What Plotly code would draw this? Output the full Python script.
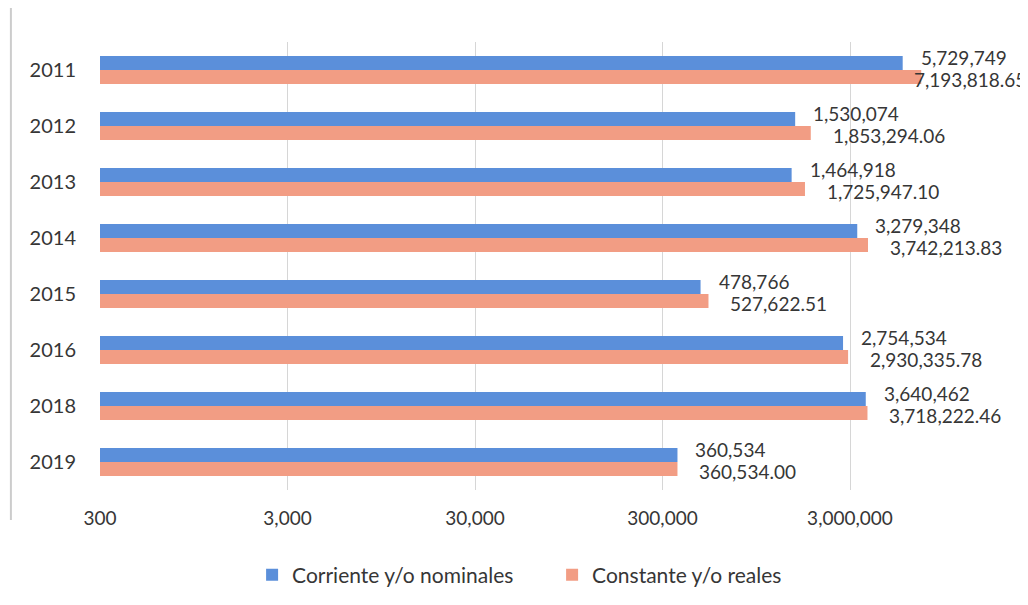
import plotly.graph_objects as go
import math

years = ["2011", "2012", "2013", "2014", "2015", "2016", "2018", "2019"]
corriente = [5729749, 1530074, 1464918, 3279348, 478766, 2754534, 3640462, 360534]
constante = [7193818.65, 1853294.06, 1725947.10, 3742213.83, 527622.51, 2930335.78, 3718222.46, 360534.00]
corriente_lbl = ["5,729,749", "1,530,074", "1,464,918", "3,279,348", "478,766", "2,754,534", "3,640,462", "360,534"]
constante_lbl = ["7,193,818.65", "1,853,294.06", "1,725,947.10", "3,742,213.83", "527,622.51", "2,930,335.78", "3,718,222.46", "360,534.00"]
tick_vals = [300, 3000, 30000, 300000, 3000000]
tick_text = ["300", "3,000", "30,000", "300,000", "3,000,000"]

BLUE = "#5b8fda"
ORANGE = "#f29d84"
TXT = "#363636"
FONT = "Lato, Open Sans, sans-serif"
LBL_SIZE = 19

fig = go.Figure()
fig.add_trace(go.Bar(
    y=years, x=corriente, orientation="h", name="Corriente y/o nominales",
    marker=dict(color=BLUE, line=dict(width=0)),
))
fig.add_trace(go.Bar(
    y=years, x=constante, orientation="h", name="Constante y/o reales",
    marker=dict(color=ORANGE, line=dict(width=0)),
))

x_max_fit = 5e6  # labels beyond this value are pulled left to stay on the page
annotations = []
for i, (v, lbl) in enumerate(zip(corriente, corriente_lbl)):
    annotations.append(dict(x=math.log10(v), y=i, xref="x", yref="y", text=lbl,
                            showarrow=False, xanchor="left", yanchor="middle",
                            xshift=16, yshift=13, font=dict(size=LBL_SIZE, color=TXT, family=FONT)))
for i, (v, lbl) in enumerate(zip(constante, constante_lbl)):
    annotations.append(dict(x=math.log10(v), y=i, xref="x", yref="y", text=lbl,
                            showarrow=False, xanchor="left", yanchor="middle",
                            xshift=20 if v < x_max_fit else -9, yshift=-9,
                            font=dict(size=LBL_SIZE, color=TXT, family=FONT)))

fig.update_layout(
    width=1020, height=597,
    margin=dict(l=92, r=28, t=34, b=115, autoexpand=False),
    paper_bgcolor="white", plot_bgcolor="white",
    barmode="group", bargap=0.5, bargroupgap=0,
    font=dict(family=FONT, size=18, color=TXT),
    showlegend=True,
    legend=dict(orientation="h", x=0.169, xanchor="left", y=-0.19, yanchor="middle",
                font=dict(size=21, color=TXT), traceorder="normal", itemwidth=30,
                entrywidth=255, entrywidthmode="pixels"),
    xaxis=dict(type="log", range=[math.log10(300), math.log10(300) + 4.8],
               tickvals=tick_vals, ticktext=tick_text, showgrid=True,
               gridcolor="#d6d6d6", gridwidth=1, zeroline=False, showline=False,
               ticks="", ticklabelstandoff=15, tickfont=dict(size=19, color=TXT),
               automargin=False),
    yaxis=dict(type="category", categoryorder="array", categoryarray=years,
               range=[len(years) - 0.5, -0.5], autorange=False,
               showgrid=False, showline=False, ticks="",
               ticklabelstandoff=23, tickfont=dict(size=20, color=TXT), automargin=False),
    annotations=annotations,
    shapes=[dict(type="line", xref="paper", yref="paper",
                 x0=-0.099, x1=-0.099, y0=-0.067, y1=1.1,
                 line=dict(color="#cccccc", width=2))],
)

fig.write_html("out.html")
